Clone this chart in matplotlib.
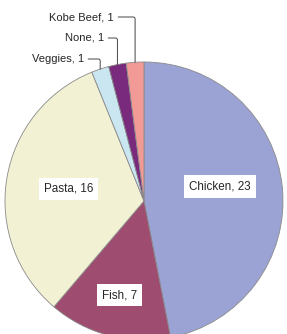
import numpy as np
import matplotlib.pyplot as plt

plt.rcParams['font.family'] = ['Liberation Sans', 'DejaVu Sans']

# Meal choices
categories = ['Chicken', 'Fish', 'Pasta', 'Veggies', 'None', 'Kobe Beef']
counts = [23, 7, 16, 1, 1, 1]
colors = ['#9ba3d4', '#9e4c70', '#f3f1d3', '#c9e6f1', '#7a2a7c', '#f29a96']

fig = plt.figure(figsize=(2.87, 3.34), dpi=100)
ax = fig.add_axes([0, 0, 1, 1])

wedges, _ = ax.pie(counts, colors=colors, startangle=90, counterclock=False,
                   radius=1.0, center=(0, 0), frame=True,
                   wedgeprops=dict(edgecolor='#8a8a8a', linewidth=0.6))

# pie sits low and slightly cropped, like the original screenshot
r_px = 139.0
cx, cy = 144.0, 201.0
ax.set_xlim(-cx / r_px, (287 - cx) / r_px)
ax.set_ylim(-(334 - cy) / r_px, cy / r_px)
ax.set_aspect('equal')
ax.axis('off')

# big slices: labels inside with white boxes (radial distance, vertical nudge in px)
inner_pos = {'Chicken': (0.55, 7), 'Fish': (0.7, 0), 'Pasta': (0.55, 0)}
# small slices: labels outside with leader lines (text right edge in px)
outer_pos = {'Veggies': (84, 59), 'None': (104, 38), 'Kobe Beef': (114, 17)}

for w, name, n in zip(wedges, categories, counts):
    mid = np.deg2rad((w.theta1 + w.theta2) / 2)
    label = f'{name}, {n}'
    if name in inner_pos:
        d, nudge = inner_pos[name]
        ax.text(d * np.cos(mid), d * np.sin(mid) + nudge / r_px, label,
                ha='center', va='center', fontsize=8.4, color='#262626',
                bbox=dict(boxstyle='square,pad=0.45', fc='white', ec='none'))
    else:
        px, py = outer_pos[name]
        tx, ty = (px - cx) / r_px, (cy - py) / r_px
        ax.annotate(label, xy=(np.cos(mid), np.sin(mid)), xytext=(tx, ty),
                    ha='right', va='center', fontsize=8, color='#262626',
                    arrowprops=dict(arrowstyle='-', color='#444444', lw=0.7,
                                    relpos=(1, 0.5), shrinkA=1, shrinkB=0,
                                    connectionstyle='angle,angleA=0,angleB=90,rad=2'))

fig.savefig('out.png', dpi=100)
